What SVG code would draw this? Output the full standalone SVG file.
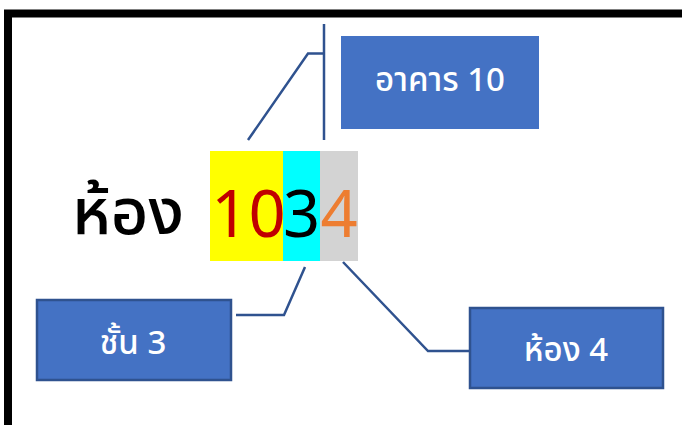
<svg xmlns="http://www.w3.org/2000/svg" width="682" height="425" viewBox="0 0 682 425">
<defs>
<style>
.frame{fill:none;stroke:#000;stroke-width:8}
.conn{fill:none;stroke:#2F528F;stroke-width:2.5}
.box{fill:#4472C4}
.box2{fill:#4472C4;stroke:#2F528F;stroke-width:2.5}
.lbl{font-family:"Noto Sans Thai","Leelawadee UI",Tahoma,"Noto Sans","DejaVu Sans",sans-serif;fill:#fff;font-size:33px;font-weight:500;text-anchor:middle}
.big{font-family:"Noto Sans Thai","Leelawadee UI",Tahoma,"Noto Sans","DejaVu Sans",sans-serif;font-size:65px;text-anchor:middle}
</style>
</defs>
<rect width="682" height="425" fill="#fff"/>
<path class="frame" d="M8,425 V13.5 H682"/>
<g id="connectors">
<polyline class="conn" points="248,140 308,53.5 324,53.5"/>
<line class="conn" x1="324" y1="24" x2="324" y2="140"/>
<polyline class="conn" points="305,267 284,315 236,315"/>
<polyline class="conn" points="343,262 428,351 469,351"/>
</g>
<g id="room-number">
<rect x="210" y="151" width="73" height="110" fill="#FFFF00"/>
<rect x="283" y="151" width="37" height="110" fill="#00FFFF"/>
<rect x="320" y="151" width="38" height="110" fill="#D3D3D3"/>
<text class="big" x="128" y="234" fill="#000" font-weight="500">ห้อง</text>
<text class="big" x="248.5" y="237" fill="#C00000">10</text>
<text class="big" x="301.5" y="237" fill="#000">3</text>
<text class="big" x="339" y="237" fill="#ED7D31">4</text>
</g>
<g id="node-building">
<rect class="box" x="341" y="36" width="198" height="93"/>
<text class="lbl" x="440" y="91">อาคาร 10</text>
</g>
<g id="node-floor">
<rect class="box2" x="37" y="300" width="194" height="80"/>
<text class="lbl" x="133" y="354">ชั้น 3</text>
</g>
<g id="node-room">
<rect class="box2" x="470" y="308" width="193" height="80"/>
<text class="lbl" x="566" y="361">ห้อง 4</text>
</g>
</svg>
